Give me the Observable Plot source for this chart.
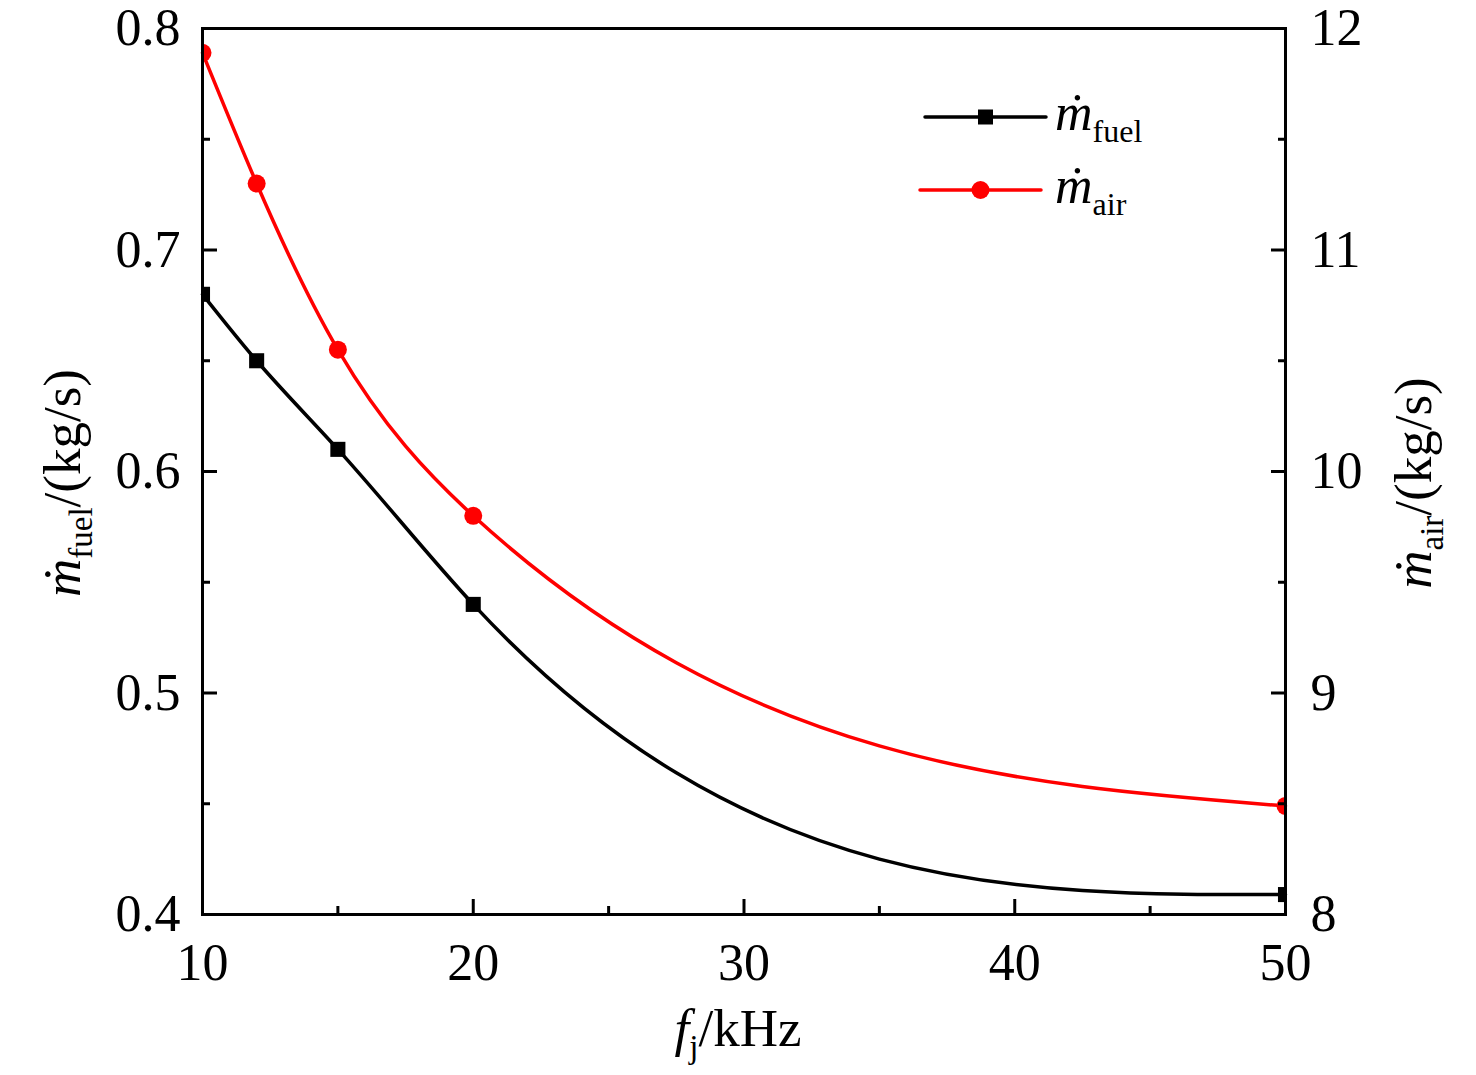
<!DOCTYPE html>
<html><head><meta charset="utf-8">
<script src="https://cdn.jsdelivr.net/npm/d3@7"></script>
<script src="https://cdn.jsdelivr.net/npm/@observablehq/plot@0.6"></script>
<style>body{margin:0;background:#fff} svg{display:block}</style>
</head><body><div id="chart"></div>
<script>
// ---- data ----
const freq = [10, 12, 15, 20, 50];               // f_j / kHz
const mFuel = [0.68, 0.65, 0.61, 0.54, 0.409];    // kg/s (left axis)
const mAir = [11.89, 11.30, 10.55, 9.80, 8.49];   // kg/s (right axis)
const xTicks = [10, 20, 30, 40, 50];
const xMinor = [15, 25, 35, 45];
const fuelTicks = [0.4, 0.5, 0.6, 0.7, 0.8];
const fuelMinor = [0.45, 0.55, 0.65, 0.75];
const airTicks = [8, 9, 10, 11, 12];
const airMinor = [8.5, 9.5, 10.5, 11.5];
const fuelDomain = [0.4, 0.8];
const airDomain = [8, 12];

const toFuel = v => fuelDomain[0] + (v - airDomain[0]) * (fuelDomain[1] - fuelDomain[0]) / (airDomain[1] - airDomain[0]);
const toAir = v => airDomain[0] + (v - fuelDomain[0]) * (airDomain[1] - airDomain[0]) / (fuelDomain[1] - fuelDomain[0]);

const fuelData = freq.map((f, i) => ({f, v: mFuel[i]}));
const airData = freq.map((f, i) => ({f, v: toFuel(mAir[i])}));

const FONT = '"Liberation Serif","Times New Roman",serif';
const RED = "#ff0000";
const TICKFS = 52;

// natural cubic spline with y as a function of x (like Origin's "Spline" connect)
function naturalX(context) { return new NaturalX(context); }
class NaturalX {
  constructor(ctx) { this._context = ctx; }
  areaStart() {}
  areaEnd() {}
  lineStart() { this._x = []; this._y = []; }
  point(x, y) { this._x.push(+x); this._y.push(+y); }
  lineEnd() {
    const X = this._x, Y = this._y, n = X.length, ctx = this._context;
    if (!n) return;
    ctx.moveTo(X[0], Y[0]);
    if (n === 1) return;
    if (n === 2) { ctx.lineTo(X[1], Y[1]); return; }
    const h = [], s = [];
    for (let i = 0; i < n - 1; i++) { h[i] = X[i + 1] - X[i]; s[i] = (Y[i + 1] - Y[i]) / h[i]; }
    const M = new Array(n).fill(0), a = [], b = [], c = [], d = [];
    for (let i = 1; i < n - 1; i++) { a[i] = h[i - 1]; b[i] = 2 * (h[i - 1] + h[i]); c[i] = h[i]; d[i] = 6 * (s[i] - s[i - 1]); }
    for (let i = 2; i < n - 1; i++) { const w = a[i] / b[i - 1]; b[i] -= w * c[i - 1]; d[i] -= w * d[i - 1]; }
    for (let i = n - 2; i >= 1; i--) M[i] = (d[i] - c[i] * (i + 1 < n - 1 ? M[i + 1] : 0)) / b[i];
    for (let i = 0; i < n - 1; i++) {
      const m0 = s[i] - h[i] * (2 * M[i] + M[i + 1]) / 6;
      const m1 = s[i] + h[i] * (M[i] + 2 * M[i + 1]) / 6;
      ctx.bezierCurveTo(X[i] + h[i] / 3, Y[i] + m0 * h[i] / 3, X[i + 1] - h[i] / 3, Y[i + 1] - m1 * h[i] / 3, X[i + 1], Y[i + 1]);
    }
  }
}

const axisText = {fontSize: TICKFS, fontFamily: FONT, fill: "black", label: null};

const plot = Plot.plot({
  width: 1476, height: 1075,
  marginLeft: 202, marginRight: 191, marginTop: 28, marginBottom: 161,
  style: `font-family:${FONT};background:white;overflow:visible;color:black;`,
  x: {domain: [10, 50]},
  y: {domain: fuelDomain},
  marks: [
    Plot.line(airData, {x: "f", y: "v", curve: naturalX, stroke: RED, strokeWidth: 3.5}),
    Plot.line(fuelData, {x: "f", y: "v", curve: naturalX, stroke: "black", strokeWidth: 3.5}),
    Plot.dot(fuelData, {x: "f", y: "v", symbol: "square", r: 8.5, fill: "black", clip: true}),
    Plot.dot(airData, {x: "f", y: "v", symbol: "circle", r: 9, fill: RED, clip: true}),
    // x axis
    Plot.axisX({ticks: xTicks, tickSize: 0, tickPadding: 29, ...axisText, tickFormat: d => String(d)}),
    Plot.axisX({ticks: xTicks, tickSize: -15, text: null, label: null, strokeWidth: 3}),
    Plot.axisX({ticks: xMinor, tickSize: -8, text: null, label: null, strokeWidth: 3}),
    // left y axis
    Plot.axisY({ticks: fuelTicks, tickSize: 0, tickPadding: 22, ...axisText, tickFormat: d => d.toFixed(1)}),
    Plot.axisY({ticks: fuelTicks, tickSize: -15, text: null, label: null, strokeWidth: 3}),
    Plot.axisY({ticks: fuelMinor, tickSize: -8, text: null, label: null, strokeWidth: 3}),
    // right y axis (air values mapped onto the shared scale)
    Plot.axisY({anchor: "right", ticks: airTicks.map(toFuel), tickSize: 0, tickPadding: 25, ...axisText, tickFormat: d => String(Math.round(toAir(d)))}),
    Plot.axisY({anchor: "right", ticks: airTicks.map(toFuel), tickSize: -15, text: null, label: null, strokeWidth: 3}),
    Plot.axisY({anchor: "right", ticks: airMinor.map(toFuel), tickSize: -8, text: null, label: null, strokeWidth: 3}),
    Plot.frame({stroke: "black", strokeWidth: 3})
  ]
});
document.getElementById("chart").appendChild(plot);

// ---- axis titles and legend with sub-scripts ----
const svg = d3.select(plot);
function richLabel(g, main, sub, rest, italicMain) {
  const t = g.append("text").attr("font-family", FONT).attr("fill", "black").attr("text-anchor", "middle");
  t.append("tspan").attr("font-size", 53).attr("font-style", italicMain ? "italic" : null).text(main);
  t.append("tspan").attr("font-size", 33).attr("dy", 12).text(sub);
  if (rest) t.append("tspan").attr("font-size", 53).attr("dy", -12).text(rest);
  return t;
}
richLabel(svg.append("g").attr("transform", "translate(80,483) rotate(-90)"), "ṁ", "fuel", "/(kg/s)", true);
richLabel(svg.append("g").attr("transform", "translate(1431,483) rotate(-90)"), "ṁ", "air", "/(kg/s)", true);
richLabel(svg.append("g").attr("transform", "translate(738,1046)"), "f", "j", "/kHz", true);

const legendItems = [
  {sub: "fuel", color: "black", symbol: d3.symbolSquare, x0: 925, x1: 1046, y: 117, size: 225},
  {sub: "air", color: RED, symbol: d3.symbolCircle, x0: 920, x1: 1041, y: 190, size: Math.PI * 81}
];
const lg = svg.append("g");
legendItems.forEach(it => {
  lg.append("line").attr("x1", it.x0).attr("x2", it.x1).attr("y1", it.y).attr("y2", it.y)
    .attr("stroke", it.color).attr("stroke-width", 3.5).attr("stroke-linecap", "round");
  lg.append("path").attr("d", d3.symbol(it.symbol, it.size)())
    .attr("transform", `translate(${(it.x0 + it.x1) / 2},${it.y})`).attr("fill", it.color);
  const t = lg.append("text").attr("font-family", FONT).attr("fill", "black").attr("text-anchor", "start")
    .attr("x", 1055).attr("y", it.y + 13);
  t.append("tspan").attr("font-size", 52).attr("font-style", "italic").text("ṁ");
  t.append("tspan").attr("font-size", 32).attr("dy", 12).text(it.sub);
});
</script>
</body></html>
